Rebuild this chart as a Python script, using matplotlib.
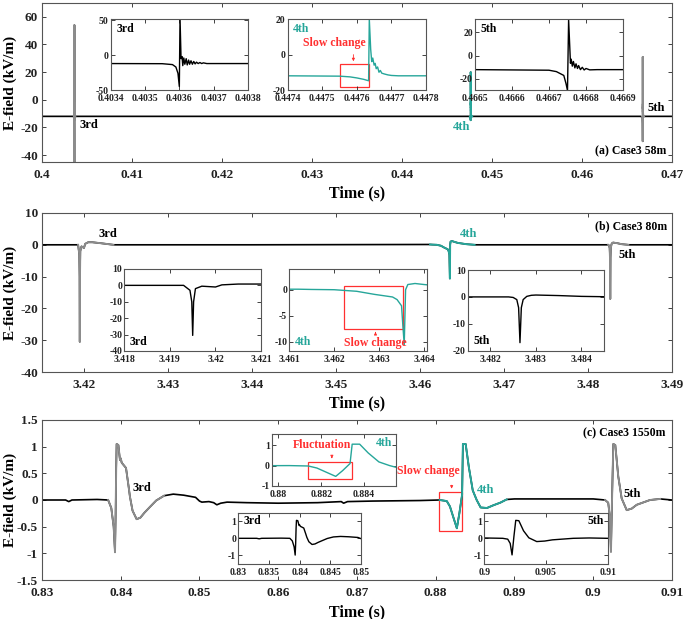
import numpy as np
import matplotlib
matplotlib.use("Agg")
import matplotlib.pyplot as plt
from matplotlib.patches import Rectangle
from matplotlib.ticker import FuncFormatter

plt.rcParams['font.family'] = ['Liberation Serif', 'DejaVu Serif']
plt.rcParams['font.weight'] = 'bold'
plt.rcParams['axes.unicode_minus'] = False

TEAL = '#26a69a'
GRAY = '#8c8c8c'
RED = '#ff3030'

# ---- (a) Case3 58m : time (s), E-field (kV/m)
a_t = [0.4000, 0.4034, 0.40355, 0.40358, 0.40359, 0.403596, 0.4036, 0.403602,
       0.403605, 0.403608, 0.40361, 0.403613, 0.403616, 0.40362, 0.403623,
       0.403627, 0.40363, 0.403634, 0.403638, 0.403642, 0.403646, 0.40365,
       0.403655, 0.40366, 0.403665, 0.40367, 0.40368, 0.4037, 0.4038,
       0.4200, 0.4400, 0.4474, 0.44755, 0.44758, 0.4476, 0.44762, 0.447634,
       0.447636, 0.44764, 0.447643, 0.447646, 0.44765, 0.447653, 0.447656,
       0.44766, 0.447664, 0.447668, 0.447672, 0.44768, 0.44769, 0.4477,
       0.44772, 0.4478, 0.4600, 0.4665, 0.4667, 0.46672, 0.46674, 0.466746,
       0.46675, 0.466753, 0.466758, 0.46676, 0.466763, 0.466766, 0.46677,
       0.466773, 0.466777, 0.46678, 0.466785, 0.46679, 0.466795, 0.4668,
       0.46681, 0.46683, 0.4669, 0.4700]
a_v = [-12, -12, -12.2, -13.5, -17, -26, -45, 54,
       -5, -2, -15, -4, -13, -5, -14,
       -7, -13, -8, -13, -9, -12.5, -10,
       -12, -10.5, -12, -11, -12, -12, -12,
       -12, -12, -12, -12.2, -12.6, -13.2, -14, -14.8,
       20, 3, -4, -2, -6, -5, -8,
       -7, -10, -9, -10.5, -11, -11.5, -11.8,
       -12, -12, -12, -12, -12.5, -13.7, -17, -24,
       -30, 31, -6.5, -3, -9, -5, -10.5,
       -7, -11, -8.5, -12, -10, -12.3, -11,
       -12.2, -12, -12, -12]
a_events = [(0.4035, 0.4037, GRAY), (0.4475, 0.4478, TEAL), (0.4667, 0.4669, GRAY)]

# ---- (b) Case3 80m
b_t = [3.4150, 3.4190, 3.4193, 3.41944, 3.41948, 3.4195, 3.41952, 3.41956,
       3.4197, 3.4200, 3.42014, 3.4205, 3.4210, 3.4220, 3.4235, 3.4400,
       3.4612, 3.4615, 3.4620, 3.4625, 3.4629, 3.4633, 3.4634, 3.4635,
       3.46353, 3.46356, 3.46359, 3.46364, 3.4638, 3.4640, 3.4645, 3.4655,
       3.4665, 3.4800, 3.4824, 3.4825, 3.48258, 3.48262, 3.48265, 3.48268,
       3.48272, 3.4828, 3.4829, 3.4830, 3.4835, 3.4840, 3.4848, 3.4900]
b_v = [0.0, 0.0, 0.0, -3, -10, -30.5, -10, -2,
       -0.5, -1.0, 0.3, 0.8, 0.8, 0.5, 0.0, 0.0,
       0.1, 0.05, 0.0, -0.3, -0.9, -1.4, -1.9, -3.1,
       -7, -10.6, 0.0, 1.0, 1.2, 1.0, 0.6, 0.2,
       0.0, 0.0, 0.0, -0.2, -1.0, -4, -17, -4,
       -1, 0.2, 0.6, 0.7, 0.5, 0.2, 0.0, 0.0]
b_events = [(3.4192, 3.4235, GRAY), (3.4612, 3.4665, TEAL), (3.4822, 3.4848, GRAY)]

# ---- (c) Case3 1550m
c_t = [0.8300, 0.8330, 0.8334, 0.8338, 0.8370, 0.8384, 0.8388, 0.8391,
       0.83927, 0.83935, 0.83942, 0.83948, 0.8397, 0.8399, 0.8400, 0.84012,
       0.84067, 0.8410, 0.84117, 0.8415, 0.84202, 0.8425, 0.8430, 0.84371,
       0.8445, 0.8455, 0.84667, 0.8480, 0.8495, 0.8500, 0.8503, 0.8512,
       0.8518, 0.8522, 0.8527, 0.8535, 0.8560, 0.8600, 0.8650, 0.8680,
       0.8683, 0.8688, 0.8720, 0.8780, 0.8805, 0.8814, 0.8818, 0.88225,
       0.88268, 0.8830, 0.88335, 0.88345, 0.8838, 0.8842, 0.8847, 0.8852,
       0.8857, 0.8865, 0.8873, 0.8882, 0.8890, 0.8900, 0.8950, 0.9000,
       0.9015, 0.9019, 0.9021, 0.90225, 0.9024, 0.90255, 0.9028, 0.90318,
       0.90361, 0.90425, 0.9049, 0.90552, 0.90721, 0.9085, 0.9100]
c_v = [0.00, 0.00, -0.03, 0.00, 0.01, 0.00, -0.15, -0.5,
       -0.98, -0.3, 0.6, 1.05, 1.03, 0.75, 0.78, 0.70,
       0.60, 0.25, 0.06, -0.2, -0.36, -0.33, -0.24, -0.13,
       -0.01, 0.08, 0.11, 0.09, 0.05, -0.02, -0.04, -0.03,
       -0.05, -0.09, -0.06, -0.04, -0.05, -0.06, -0.05, -0.03,
       -0.06, -0.03, -0.02, -0.01, 0.00, -0.02, -0.12, -0.33,
       -0.53, -0.25, 0.10, 1.05, 1.05, 0.62, 0.18, 0.0,
       -0.14, -0.15, -0.10, -0.05, 0.01, 0.02, 0.02, 0.02,
       0.0, -0.05, -0.3, -0.97, 0.1, 1.05, 1.03, 0.44,
       0.03, -0.19, -0.16, -0.09, 0.0, 0.02, 0.0]
c_events = [(0.8384, 0.8465, GRAY), (0.8805, 0.8890, TEAL), (0.9015, 0.9085, GRAY)]

fmt = FuncFormatter(lambda x, p: f'{x:g}')


def style(ax, fs, xpad=2, ypad=2):
    ax.tick_params(direction='in', top=True, right=True, length=3, width=0.6,
                   labelsize=fs, colors='#222222')
    ax.tick_params(axis='x', pad=xpad)
    ax.tick_params(axis='y', pad=ypad)
    for s in ax.spines.values():
        s.set_color('#555555')
        s.set_linewidth(0.8)
    ax.xaxis.set_major_formatter(fmt)
    ax.yaxis.set_major_formatter(fmt)


def trace(ax, t, v, events, lw=1.2):
    t = np.asarray(t)
    v = np.asarray(v)
    ax.plot(t, v, color='black', lw=lw)
    for ev in events:
        m = (t >= ev[0]) & (t <= ev[1])
        ax.plot(t[m], v[m], color=ev[2], lw=lw + 0.2)


def labels(ax):
    ax.set_xlabel('Time (s)', fontsize=11.5, fontweight='bold')
    ax.set_ylabel('E-field (kV/m)', fontsize=11, fontweight='bold')
    ax.xaxis.set_label_coords(0.5, -0.15)
    ax.yaxis.set_label_coords(-0.039, 0.5)


def inset(rect, t, v, color, xlim, ylim, xticks, yticks, label, lpos, lcolor):
    ax = fig.add_axes(rect)
    ax.plot(t, v, color=color, lw=1.0)
    ax.set_xlim(xlim)
    ax.set_ylim(ylim)
    ax.set_xticks(xticks)
    ax.set_yticks(yticks)
    style(ax, 7, xpad=3, ypad=1.5)
    x, y, ha, va = lpos
    ax.text(x, y, label, transform=ax.transAxes, ha=ha, va=va,
            fontsize=8.5, fontweight='bold', color=lcolor)
    return ax


fig = plt.figure(figsize=(6.85, 6.19), dpi=100)
TL = (0.04, 0.95, 'left', 'top')
BL = (0.04, 0.04, 'left', 'bottom')
TR = (0.97, 0.95, 'right', 'top')

# ================= panel (a)
ax = fig.add_axes([0.0613, 0.7383, 0.9197, 0.2569])
trace(ax, a_t, a_v, a_events)
ax.set_xlim(0.4, 0.47)
ax.set_ylim(-45, 70)
ax.set_xticks(np.arange(0.40, 0.4701, 0.01))
ax.set_yticks([-40, -20, 0, 20, 40, 60])
style(ax, 9.5, xpad=5, ypad=3)
ax.text(0.4052, -18.5, '3rd', ha='center', va='center', fontsize=9)
ax.text(0.4466, -19.5, '4th', ha='center', va='center', fontsize=9, color=TEAL)
ax.text(0.4683, -6, '5th', ha='center', va='center', fontsize=9)
ax.text(0.4694, -37.5, '(a) Case3 58m', ha='right', va='center', fontsize=8.5)
labels(ax)

inset([0.1616, 0.8546, 0.2004, 0.1147], a_t, a_v, 'black', (0.4034, 0.4038),
      (-50, 52), [0.4034, 0.4035, 0.4036, 0.4037, 0.4038], [-50, 0, 50], '3rd', TL, 'black')
ai = inset([0.4200, 0.8546, 0.2019, 0.1147], a_t, a_v, TEAL, (0.4474, 0.4478),
           (-20, 20), [0.4474, 0.4475, 0.4476, 0.4477, 0.4478], [-20, 0, 20], '4th', TL, TEAL)
ai.add_patch(Rectangle((0.447551, -18.5), 0.000084, 13.1, fill=False, ec=RED, lw=0.9))
ai.text(0.447536, 6.3, 'Slow change', ha='center', va='center', fontsize=8.5, color=RED)
ai.annotate('', xy=(0.44759, -5.4), xytext=(0.44759, 1.5),
            arrowprops=dict(arrowstyle='-|>', color=RED, lw=0.6, mutation_scale=4))
inset([0.6934, 0.8546, 0.2161, 0.1147], a_t, a_v, 'black', (0.4665, 0.4669),
      (-29.5, 31.5), [0.4665, 0.4666, 0.4667, 0.4668, 0.4669], [-20, 0, 20], '5th', TL, 'black')

# ================= panel (b)
ax = fig.add_axes([0.0613, 0.3990, 0.9197, 0.2569])
trace(ax, b_t, b_v, b_events)
ax.set_xlim(3.415, 3.49)
ax.set_ylim(-40, 10)
ax.set_xticks(np.arange(3.42, 3.4901, 0.01))
ax.set_yticks([-40, -30, -20, -10, 0, 10])
style(ax, 9.5, xpad=5, ypad=3)
ax.text(3.4229, 3.3, '3rd', ha='center', va='center', fontsize=9)
ax.text(3.4658, 3.3, '4th', ha='center', va='center', fontsize=9, color=TEAL)
ax.text(3.4847, -3.2, '5th', ha='center', va='center', fontsize=9)
ax.text(3.4894, 5.9, '(b) Case3 80m', ha='right', va='center', fontsize=8.5)
labels(ax)

inset([0.1815, 0.4330, 0.1996, 0.1325], b_t, b_v, 'black', (3.418, 3.421),
      (-40, 10), [3.418, 3.419, 3.42, 3.421], [-40, -30, -20, -10, 0, 10], '3rd', BL, 'black')
bi = inset([0.4223, 0.4330, 0.2006, 0.1325], b_t, b_v, TEAL, (3.461, 3.46406),
           (-11.8, 4), [3.461, 3.462, 3.463, 3.464], [-10, -5, 0], '4th', BL, TEAL)
bi.add_patch(Rectangle((3.462215, -7.5), 0.001318, 8.3, fill=False, ec=RED, lw=0.9))
bi.text(3.46292, -10.2, 'Slow change', ha='center', va='center', fontsize=8.5, color=RED)
bi.annotate('', xy=(3.46292, -7.6), xytext=(3.46292, -8.8),
            arrowprops=dict(arrowstyle='-|>', color=RED, lw=0.6, mutation_scale=4))
inset([0.6828, 0.4334, 0.1990, 0.1304], b_t, b_v, 'black', (3.4815, 3.4845),
      (-20, 10), [3.482, 3.483, 3.484], [-20, -10, 0, 10], '5th', BL, 'black')

# ================= panel (c)
ax = fig.add_axes([0.0613, 0.0630, 0.9197, 0.2585])
trace(ax, c_t, c_v, c_events)
ax.set_xlim(0.83, 0.91)
ax.set_ylim(-1.5, 1.5)
ax.set_xticks(np.arange(0.83, 0.9101, 0.01))
ax.set_yticks([-1.5, -1, -0.5, 0, 0.5, 1, 1.5])
style(ax, 9.5, xpad=5, ypad=3)
ax.text(0.8427, 0.23, '3rd', ha='center', va='center', fontsize=9)
ax.text(0.8863, 0.18, '4th', ha='center', va='center', fontsize=9, color=TEAL)
ax.text(0.9049, 0.12, '5th', ha='center', va='center', fontsize=9)
ax.text(0.9091, 1.25, '(c) Case3 1550m', ha='right', va='center', fontsize=8.5)
ax.add_patch(Rectangle((0.88045, -0.58), 0.00292, 0.73, fill=False, ec=RED, lw=0.9))
ax.text(0.87906, 0.54, 'Slow change', ha='center', va='center', fontsize=8.5, color=RED)
ax.annotate('', xy=(0.88202, 0.16), xytext=(0.88202, 0.33),
            arrowprops=dict(arrowstyle='-|>', color=RED, lw=0.6, mutation_scale=4))
labels(ax)

ci = inset([0.3971, 0.2149, 0.1810, 0.0840], c_t, c_v, TEAL, (0.8797, 0.8855),
           (-1, 1.55), [0.88, 0.882, 0.884], [-1, 0, 1], '4th', TR, TEAL)
ci.add_patch(Rectangle((0.8814, -0.66), 0.00205, 0.86, fill=False, ec=RED, lw=0.9))
ci.text(0.88204, 1.0, 'Fluctuation', ha='center', va='center', fontsize=8.5, color=RED)
ci.annotate('', xy=(0.8825, 0.22), xytext=(0.8825, 0.55),
            arrowprops=dict(arrowstyle='-|>', color=RED, lw=0.6, mutation_scale=4))
inset([0.3479, 0.0889, 0.1791, 0.0829], c_t, c_v, 'black', (0.83, 0.85),
      (-1.5, 1.5), [0.83, 0.835, 0.84, 0.845, 0.85], [-1, 0, 1], '3rd', TL, 'black')
inset([0.7070, 0.0889, 0.1801, 0.0829], c_t, c_v, 'black', (0.9, 0.91),
      (-1.5, 1.5), [0.9, 0.905, 0.91], [-1, 0, 1], '5th', TR, 'black')

fig.savefig('out.png', dpi=100)
